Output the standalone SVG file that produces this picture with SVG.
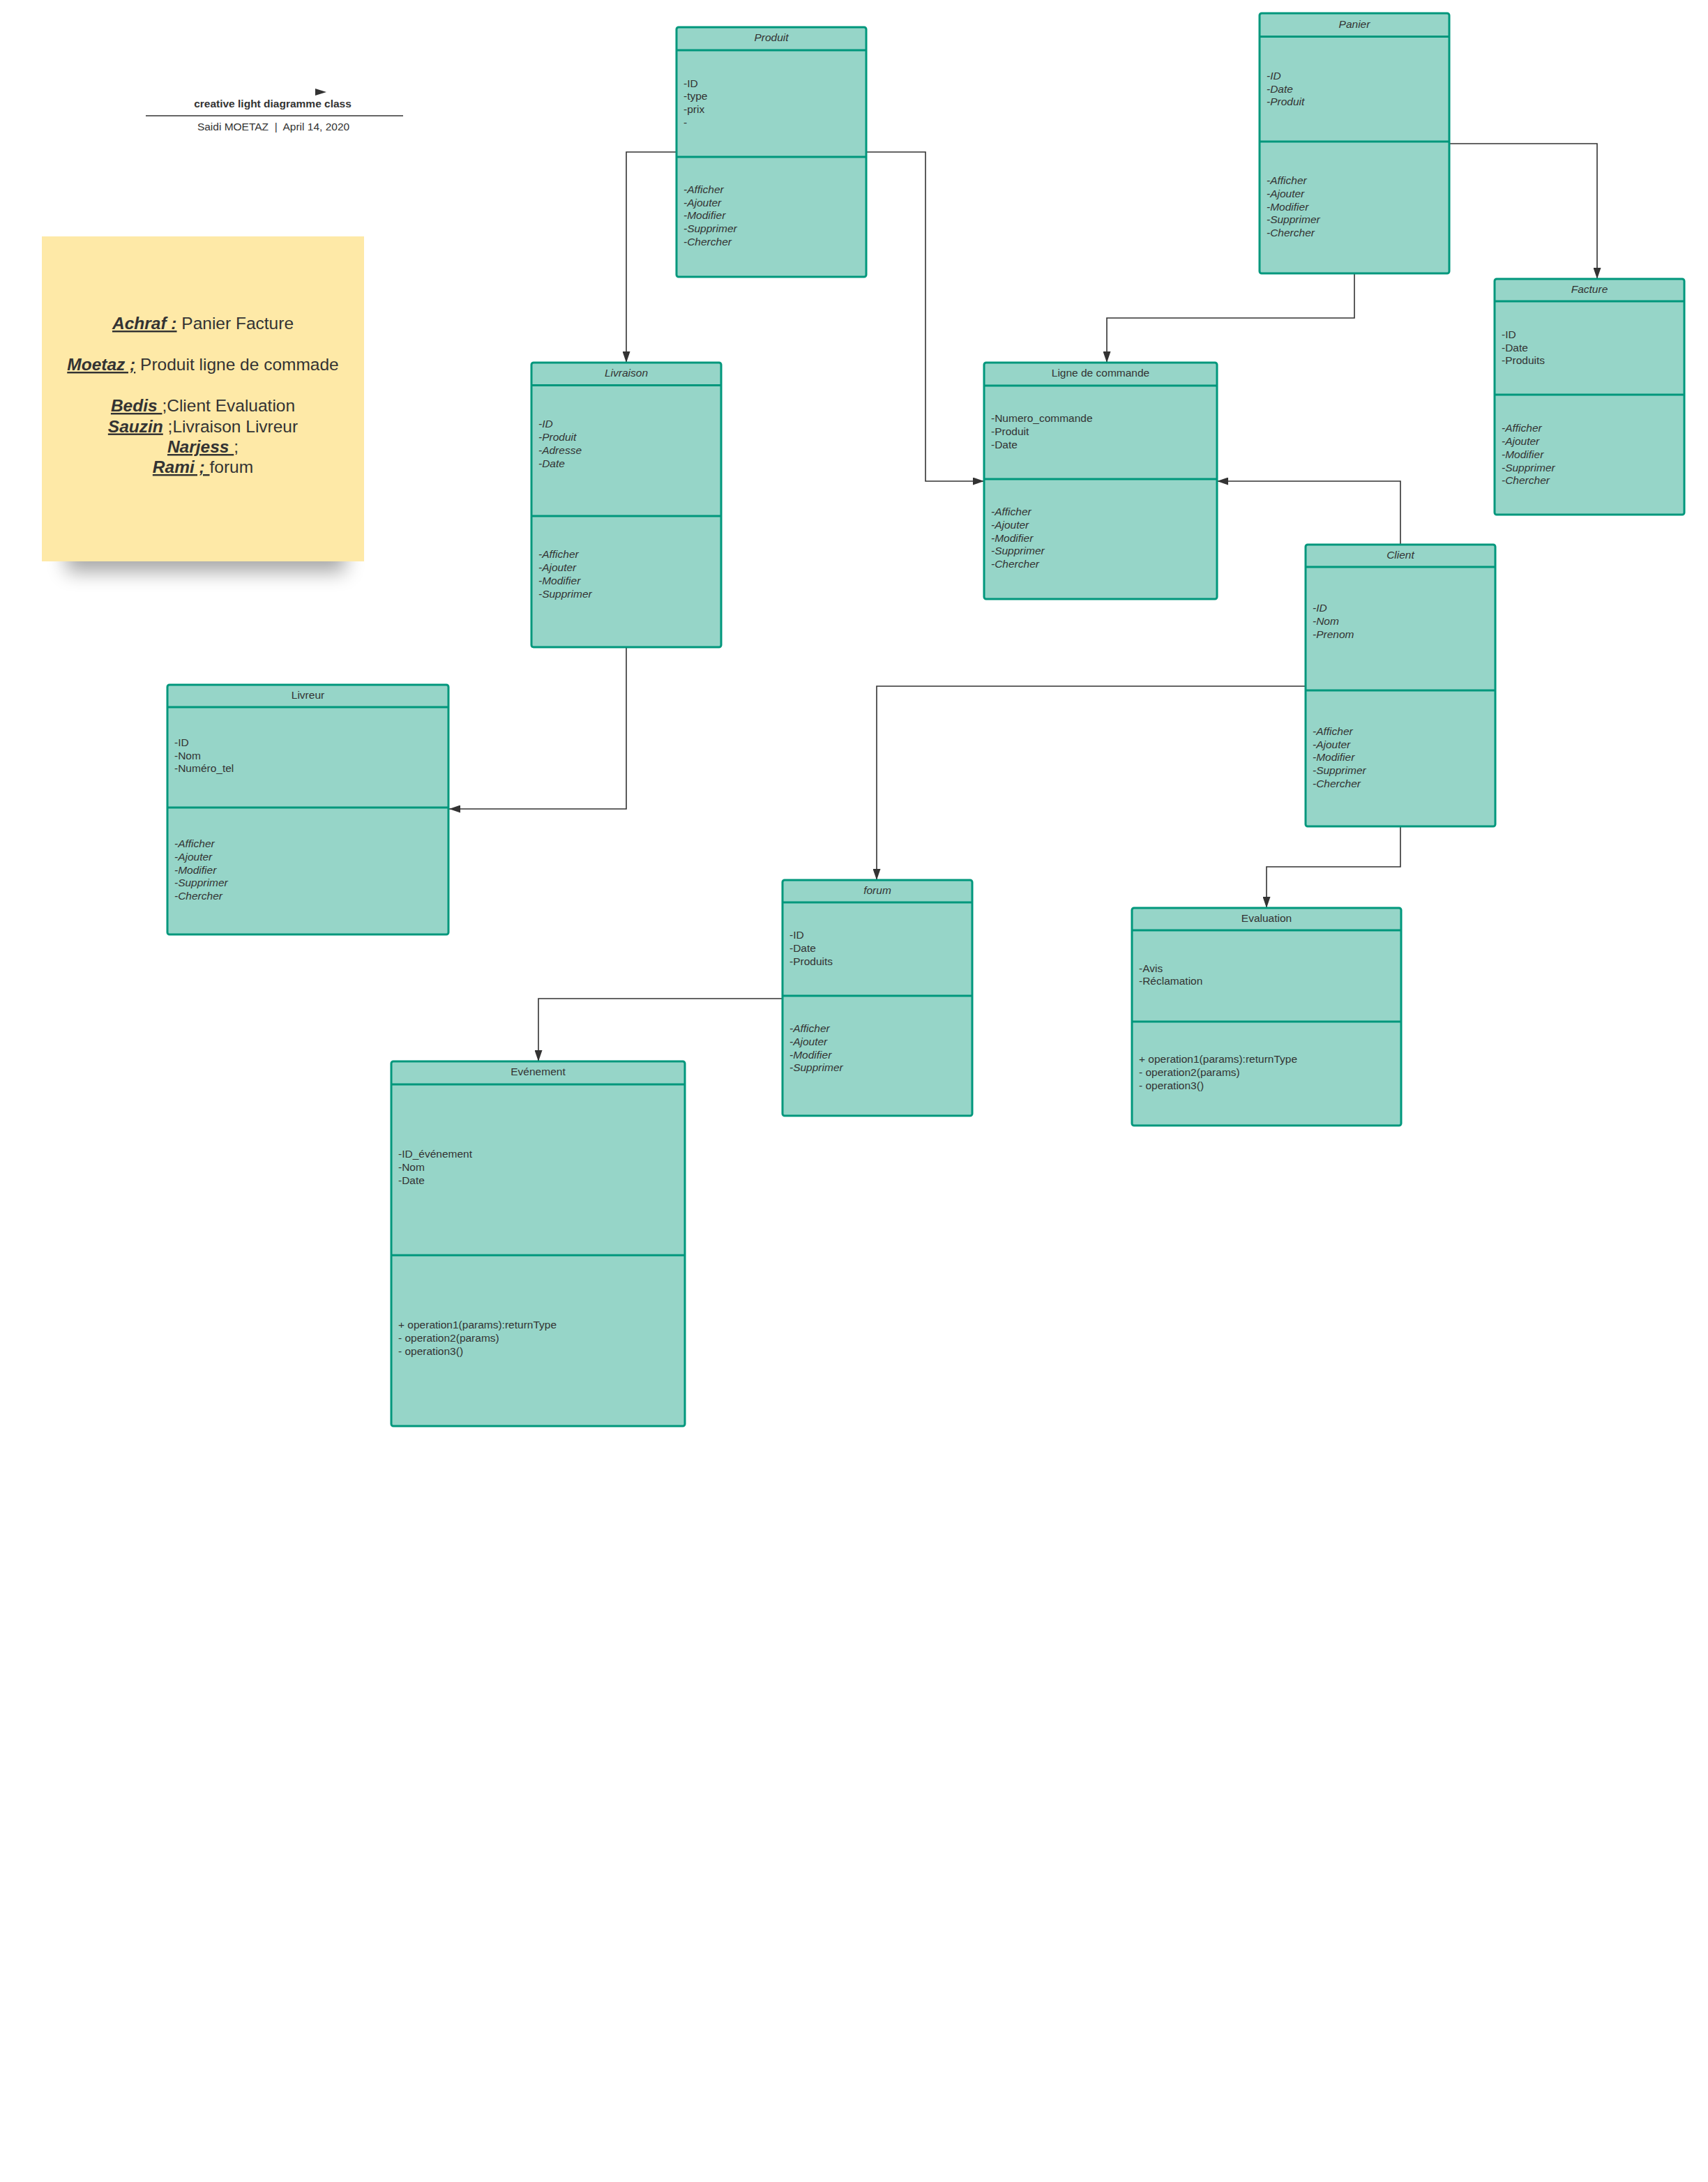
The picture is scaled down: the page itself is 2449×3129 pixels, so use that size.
<svg xmlns="http://www.w3.org/2000/svg" width="2449" height="3129" viewBox="0 0 2449 3129">
<style>
.box{fill:#96d5c8;stroke:#00977c;stroke-width:3}
.dv{stroke:#00977c;stroke-width:3}
.t{font-family:"Liberation Sans",Arial,sans-serif;font-size:15.5px;fill:#333}
.i{font-style:italic}
.h{text-anchor:middle}
.conn{fill:none;stroke:#333;stroke-width:1.6}
.n{font-family:"Liberation Sans",Arial,sans-serif;font-size:24.5px;fill:#333;text-anchor:middle}
.nm{font-weight:bold;font-style:italic;text-decoration:underline}
</style>
<defs>
<marker id="arr" markerUnits="userSpaceOnUse" markerWidth="16" markerHeight="11" refX="16" refY="5.5" orient="auto">
<path d="M0,0 L16,5.5 L0,11 z" fill="#333"/>
</marker>
<filter id="sh" x="-30%" y="-60%" width="160%" height="220%"><feGaussianBlur stdDeviation="14"/></filter>
</defs>
<rect width="2449" height="3129" fill="#fff"/>

<g id="title">
<polygon points="452,127 468,132 452,137" fill="#333"/>
<text class="t h" x="391" y="154" font-weight="bold">creative light diagramme class</text>
<line x1="209" y1="166" x2="578" y2="166" stroke="#333" stroke-width="1.6"/>
<text class="t h" x="392" y="186.5">Saidi MOETAZ &#160;|&#160; April 14, 2020</text>
</g>

<g id="note">
<rect x="95" y="735" width="400" height="85" fill="#000" opacity="0.35" filter="url(#sh)"/>
<rect x="60" y="339" width="462" height="466" fill="#fee9a7"/>
<text class="n" x="291" y="472" xml:space="preserve"><tspan class="nm">Achraf :</tspan> Panier Facture</text>
<text class="n" x="291" y="531" xml:space="preserve"><tspan class="nm">Moetaz ;</tspan> Produit ligne de commade</text>
<text class="n" x="291" y="590" xml:space="preserve"><tspan class="nm">Bedis </tspan>;Client Evaluation</text>
<text class="n" x="291" y="619.5" xml:space="preserve"><tspan class="nm">Sauzin</tspan> ;Livraison Livreur</text>
<text class="n" x="291" y="649" xml:space="preserve"><tspan class="nm">Narjess </tspan>;</text>
<text class="n" x="291" y="678" xml:space="preserve"><tspan class="nm">Rami ; </tspan>forum</text>
</g>

<g id="connectors">
<path class="conn" d="M970,218 H898 V520" marker-end="url(#arr)"/>
<path class="conn" d="M1242,218 H1327 V690 H1411" marker-end="url(#arr)"/>
<path class="conn" d="M1942,392 V456 H1587 V520" marker-end="url(#arr)"/>
<path class="conn" d="M2078,206 H2290 V400" marker-end="url(#arr)"/>
<path class="conn" d="M2008,781 V690 H1745" marker-end="url(#arr)"/>
<path class="conn" d="M1872,984 H1257 V1262" marker-end="url(#arr)"/>
<path class="conn" d="M2008,1185 V1243 H1816 V1302" marker-end="url(#arr)"/>
<path class="conn" d="M898,928 V1160 H644" marker-end="url(#arr)"/>
<path class="conn" d="M1122,1432 H772 V1522" marker-end="url(#arr)"/>
</g>

<g id="produit">
<rect class="box" x="970" y="39" width="272" height="358" rx="3"/>
<line class="dv" x1="970" y1="72" x2="1242" y2="72"/>
<line class="dv" x1="970" y1="225" x2="1242" y2="225"/>
<text class="t h i" x="1106" y="59">Produit</text>
<text class="t" x="980"><tspan x="980" y="124.6">-ID</tspan><tspan x="980" y="143.3">-type</tspan><tspan x="980" y="162.1">-prix</tspan><tspan x="980" y="180.8">-</tspan></text>
<text class="t i" x="980"><tspan x="980" y="276.9">-Afficher</tspan><tspan x="980" y="295.7">-Ajouter</tspan><tspan x="980" y="314.4">-Modifier</tspan><tspan x="980" y="333.2">-Supprimer</tspan><tspan x="980" y="351.9">-Chercher</tspan></text>
</g>

<g id="panier">
<rect class="box" x="1806" y="19" width="272" height="373" rx="3"/>
<line class="dv" x1="1806" y1="52.5" x2="2078" y2="52.5"/>
<line class="dv" x1="1806" y1="203" x2="2078" y2="203"/>
<text class="t h i" x="1942" y="39.5">Panier</text>
<text class="t i" x="1816"><tspan x="1816" y="113.9">-ID</tspan><tspan x="1816" y="132.6">-Date</tspan><tspan x="1816" y="151.4">-Produit</tspan></text>
<text class="t i" x="1816"><tspan x="1816" y="264.1">-Afficher</tspan><tspan x="1816" y="282.9">-Ajouter</tspan><tspan x="1816" y="301.6">-Modifier</tspan><tspan x="1816" y="320.4">-Supprimer</tspan><tspan x="1816" y="339.1">-Chercher</tspan></text>
</g>

<g id="facture">
<rect class="box" x="2143" y="400" width="272" height="338" rx="3"/>
<line class="dv" x1="2143" y1="432" x2="2415" y2="432"/>
<line class="dv" x1="2143" y1="566" x2="2415" y2="566"/>
<text class="t h i" x="2279" y="419.5">Facture</text>
<text class="t" x="2153"><tspan x="2153" y="484.8">-ID</tspan><tspan x="2153" y="503.5">-Date</tspan><tspan x="2153" y="522.3">-Produits</tspan></text>
<text class="t i" x="2153"><tspan x="2153" y="619.2">-Afficher</tspan><tspan x="2153" y="638">-Ajouter</tspan><tspan x="2153" y="656.7">-Modifier</tspan><tspan x="2153" y="675.5">-Supprimer</tspan><tspan x="2153" y="694.2">-Chercher</tspan></text>
</g>

<g id="livraison">
<rect class="box" x="762" y="520" width="272" height="408" rx="3"/>
<line class="dv" x1="762" y1="552.5" x2="1034" y2="552.5"/>
<line class="dv" x1="762" y1="740" x2="1034" y2="740"/>
<text class="t h i" x="898" y="540">Livraison</text>
<text class="t i" x="772"><tspan x="772" y="613.4">-ID</tspan><tspan x="772" y="632.1">-Produit</tspan><tspan x="772" y="650.8">-Adresse</tspan><tspan x="772" y="669.5">-Date</tspan></text>
<text class="t i" x="772"><tspan x="772" y="800.4">-Afficher</tspan><tspan x="772" y="819.1">-Ajouter</tspan><tspan x="772" y="837.8">-Modifier</tspan><tspan x="772" y="856.5">-Supprimer</tspan></text>
</g>

<g id="ligne-de-commande">
<rect class="box" x="1411" y="520" width="334" height="339" rx="3"/>
<line class="dv" x1="1411" y1="553" x2="1745" y2="553"/>
<line class="dv" x1="1411" y1="687" x2="1745" y2="687"/>
<text class="t h" x="1578" y="540">Ligne de commande</text>
<text class="t" x="1421"><tspan x="1421" y="605.1">-Numero_commande</tspan><tspan x="1421" y="623.9">-Produit</tspan><tspan x="1421" y="642.7">-Date</tspan></text>
<text class="t i" x="1421"><tspan x="1421" y="739">-Afficher</tspan><tspan x="1421" y="757.8">-Ajouter</tspan><tspan x="1421" y="776.6">-Modifier</tspan><tspan x="1421" y="795.4">-Supprimer</tspan><tspan x="1421" y="814.2">-Chercher</tspan></text>
</g>

<g id="client">
<rect class="box" x="1872" y="781" width="272" height="404" rx="3"/>
<line class="dv" x1="1872" y1="813" x2="2144" y2="813"/>
<line class="dv" x1="1872" y1="990" x2="2144" y2="990"/>
<text class="t h i" x="2008" y="800.5">Client</text>
<text class="t i" x="1882"><tspan x="1882" y="877.4">-ID</tspan><tspan x="1882" y="896.3">-Nom</tspan><tspan x="1882" y="915.2">-Prenom</tspan></text>
<text class="t i" x="1882"><tspan x="1882" y="1053.8">-Afficher</tspan><tspan x="1882" y="1072.6">-Ajouter</tspan><tspan x="1882" y="1091.4">-Modifier</tspan><tspan x="1882" y="1110.1">-Supprimer</tspan><tspan x="1882" y="1128.8">-Chercher</tspan></text>
</g>

<g id="livreur">
<rect class="box" x="240" y="982" width="403" height="358" rx="3"/>
<line class="dv" x1="240" y1="1014" x2="643" y2="1014"/>
<line class="dv" x1="240" y1="1158" x2="643" y2="1158"/>
<text class="t h" x="441.5" y="1001.5">Livreur</text>
<text class="t" x="250"><tspan x="250" y="1070.2">-ID</tspan><tspan x="250" y="1088.8">-Nom</tspan><tspan x="250" y="1107.4">-Numéro_tel</tspan></text>
<text class="t i" x="250"><tspan x="250" y="1215.4">-Afficher</tspan><tspan x="250" y="1234.1">-Ajouter</tspan><tspan x="250" y="1252.7">-Modifier</tspan><tspan x="250" y="1271.4">-Supprimer</tspan><tspan x="250" y="1290">-Chercher</tspan></text>
</g>

<g id="forum">
<rect class="box" x="1122" y="1262" width="272" height="338" rx="3"/>
<line class="dv" x1="1122" y1="1294" x2="1394" y2="1294"/>
<line class="dv" x1="1122" y1="1428" x2="1394" y2="1428"/>
<text class="t h i" x="1258" y="1281.5">forum</text>
<text class="t" x="1132"><tspan x="1132" y="1346.4">-ID</tspan><tspan x="1132" y="1365.1">-Date</tspan><tspan x="1132" y="1383.7">-Produits</tspan></text>
<text class="t i" x="1132"><tspan x="1132" y="1480.4">-Afficher</tspan><tspan x="1132" y="1499.1">-Ajouter</tspan><tspan x="1132" y="1517.7">-Modifier</tspan><tspan x="1132" y="1536.4">-Supprimer</tspan></text>
</g>

<g id="evaluation">
<rect class="box" x="1623" y="1302" width="386" height="312" rx="3"/>
<line class="dv" x1="1623" y1="1334" x2="2009" y2="1334"/>
<line class="dv" x1="1623" y1="1465" x2="2009" y2="1465"/>
<text class="t h" x="1816" y="1321.5">Evaluation</text>
<text class="t" x="1633"><tspan x="1633" y="1393.6">-Avis</tspan><tspan x="1633" y="1412.3">-Réclamation</tspan></text>
<text class="t" x="1633"><tspan x="1633" y="1524.4">+ operation1(params):returnType</tspan><tspan x="1633" y="1543.1">- operation2(params)</tspan><tspan x="1633" y="1561.8">- operation3()</tspan></text>
</g>

<g id="evenement">
<rect class="box" x="561" y="1522" width="421" height="523" rx="3"/>
<line class="dv" x1="561" y1="1555" x2="982" y2="1555"/>
<line class="dv" x1="561" y1="1800" x2="982" y2="1800"/>
<text class="t h" x="771.5" y="1541.5">Evénement</text>
<text class="t" x="571"><tspan x="571" y="1660.4">-ID_événement</tspan><tspan x="571" y="1679.2">-Nom</tspan><tspan x="571" y="1697.9">-Date</tspan></text>
<text class="t" x="571"><tspan x="571" y="1905.4">+ operation1(params):returnType</tspan><tspan x="571" y="1924.2">- operation2(params)</tspan><tspan x="571" y="1942.9">- operation3()</tspan></text>
</g>
</svg>
